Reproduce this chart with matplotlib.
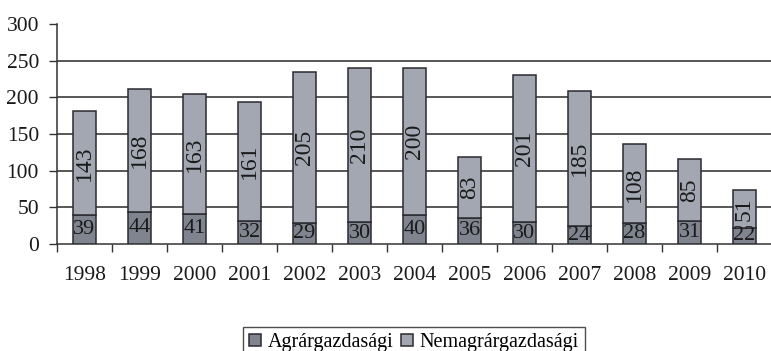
import matplotlib
matplotlib.use("Agg")
import matplotlib.pyplot as plt
import numpy as np

years = ["1998", "1999", "2000", "2001", "2002", "2003", "2004",
         "2005", "2006", "2007", "2008", "2009", "2010"]
agrar = [39, 44, 41, 32, 29, 30, 40, 36, 30, 24, 28, 31, 22]
nemagrar = [143, 168, 163, 161, 205, 210, 200, 83, 201, 185, 108, 85, 51]
yticks = [0, 50, 100, 150, 200, 250, 300]
series_names = ["Agrárgazdasági", "Nemagrárgazdasági"]

col_bottom = "#7f848f"
col_top = "#a2a7b2"
edge = "#2a2a30"
txt = "#1a1a1a"

plt.rcParams["font.family"] = ["Liberation Serif", "DejaVu Serif"]

fig = plt.figure(figsize=(7.71, 3.51), dpi=100)
ax = fig.add_axes([57 / 771, (351 - 244) / 351, 715 / 771, 220 / 351])

x = np.arange(len(years))
w = 0.42
b1 = ax.bar(x, agrar, width=w, color=col_bottom, edgecolor=edge, linewidth=1.1, zorder=3,
            label=series_names[0])
b2 = ax.bar(x, nemagrar, width=w, bottom=agrar, color=col_top, edgecolor=edge, linewidth=1.1,
            zorder=3, label=series_names[1])

for xi, a, n in zip(x, agrar, nemagrar):
    ax.text(xi, a / 2, str(a), ha="center", va="center", fontsize=16, color=txt, zorder=4)
    ax.text(xi, a + n / 2, str(n), ha="center", va="center", fontsize=17, color=txt,
            rotation=90, zorder=4)

ax.set_xlim(-0.5, len(years) - 0.5)
ax.set_ylim(0, 300)
ax.set_yticks(yticks)
ax.set_yticklabels([str(v) for v in yticks], fontsize=15.5, color=txt)
ax.set_xticks(x)
ax.set_xticklabels(years, fontsize=15.5, color=txt)
ax.set_xticks(np.arange(-0.5, len(years), 1.0), minor=True)
ax.tick_params(axis="x", which="major", length=0, pad=16)
ax.tick_params(axis="x", which="minor", length=6, width=1.0, color="#333333", direction="out")
ax.tick_params(axis="y", length=6, width=1.0, color="#333333", pad=7)

ax.yaxis.grid(True, color="#2a2a2a", linewidth=1.1, zorder=1)
ax.set_axisbelow(True)
gl = ax.get_ygridlines()
gl[0].set_visible(False)
gl[-1].set_visible(False)

for s in ["top", "right"]:
    ax.spines[s].set_visible(False)
for s in ["left", "bottom"]:
    ax.spines[s].set_color("#333333")
    ax.spines[s].set_linewidth(1.1)

leg = fig.legend(handles=[b1, b2], labels=series_names, loc="upper center",
                 bbox_to_anchor=(414 / 771, (351 - 327) / 351), ncol=2, fontsize=14.5,
                 frameon=True, fancybox=False, edgecolor="#222222", handlelength=0.6,
                 handleheight=0.6, handletextpad=0.3, columnspacing=0.4,
                 borderpad=0.3, borderaxespad=0)
leg.get_frame().set_linewidth(1.0)

fig.savefig("out.png", dpi=100)
